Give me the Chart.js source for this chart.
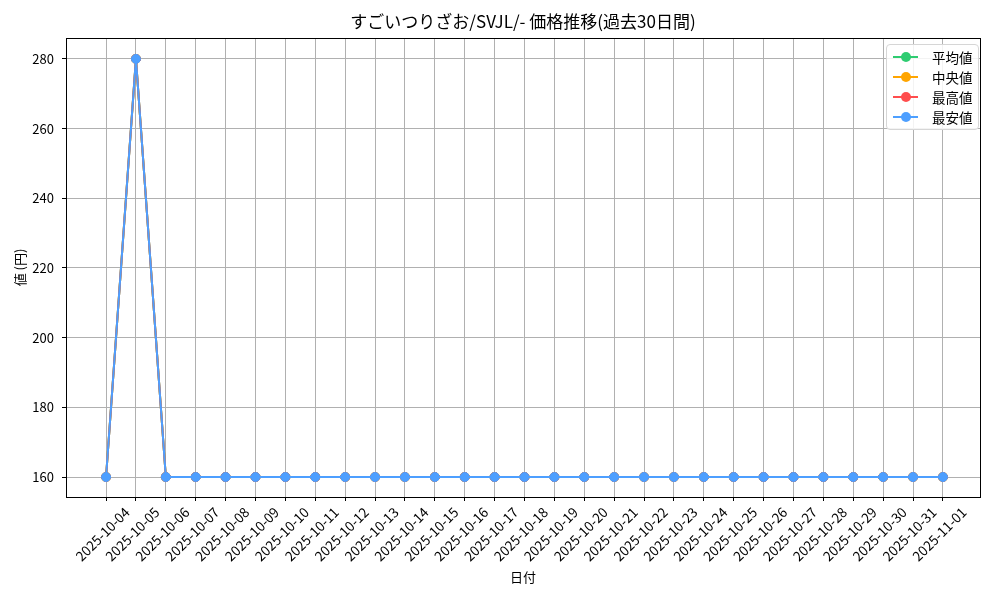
<!DOCTYPE html>
<html lang="ja">
<head>
<meta charset="utf-8">
<script src="https://cdn.jsdelivr.net/npm/chart.js@4.4.0/dist/chart.umd.min.js"></script>
<style>
  body { margin: 0; background: #fff; font-family: "Noto Sans CJK JP", sans-serif; }
  #wrap { position: relative; width: 1000px; height: 600px; }
  #legend {
    position: absolute; left: 886px; top: 44px; width: 91px; height: 84px;
    border: 1px solid #d6d6d6; border-radius: 4px; background: rgba(255,255,255,0.85);
    font-size: 13.5px; color: #000;
  }
  .item { position: absolute; left: 6px; height: 20px; display: flex; align-items: center; }
  .mark { position: relative; width: 25px; height: 2px; margin-right: 14px; }
  .mark i { position: absolute; left: 8px; top: -4px; width: 10px; height: 10px; border-radius: 50%; }
</style>
</head>
<body>
<div id="wrap">
  <canvas id="lineChart" width="1000" height="600"></canvas>
  <div id="legend"></div>
</div>
<script>
const chartTitle = 'すごいつりざお/SVJL/- 価格推移(過去30日間)';
const dates = [
  '2025-10-04', '2025-10-05', '2025-10-06', '2025-10-07', '2025-10-08', '2025-10-09', '2025-10-10',
  '2025-10-11', '2025-10-12', '2025-10-13', '2025-10-14', '2025-10-15', '2025-10-16', '2025-10-17',
  '2025-10-18', '2025-10-19', '2025-10-20', '2025-10-21', '2025-10-22', '2025-10-23', '2025-10-24',
  '2025-10-25', '2025-10-26', '2025-10-27', '2025-10-28', '2025-10-29', '2025-10-30', '2025-10-31',
  '2025-11-01'
];
const avgPrice = [160, 280, 160, 160, 160, 160, 160, 160, 160, 160, 160, 160, 160, 160, 160,
  160, 160, 160, 160, 160, 160, 160, 160, 160, 160, 160, 160, 160, 160];
const medianPrice = [160, 280, 160, 160, 160, 160, 160, 160, 160, 160, 160, 160, 160, 160, 160,
  160, 160, 160, 160, 160, 160, 160, 160, 160, 160, 160, 160, 160, 160];
const maxPrice = [160, 280, 160, 160, 160, 160, 160, 160, 160, 160, 160, 160, 160, 160, 160,
  160, 160, 160, 160, 160, 160, 160, 160, 160, 160, 160, 160, 160, 160];
const minPrice = [160, 280, 160, 160, 160, 160, 160, 160, 160, 160, 160, 160, 160, 160, 160,
  160, 160, 160, 160, 160, 160, 160, 160, 160, 160, 160, 160, 160, 160];
const yTicks = [160, 180, 200, 220, 240, 260, 280];

const series = [
  { label: '平均値', data: avgPrice, color: '#2ecc71', order: 4 },
  { label: '中央値', data: medianPrice, color: '#ffa500', order: 3 },
  { label: '最高値', data: maxPrice, color: '#ff4d4d', order: 2 },
  { label: '最安値', data: minPrice, color: '#4d9fff', order: 1 }
];

const font = "'Noto Sans CJK JP', sans-serif";

// matplotlib style: box around plot + title centred on the plot area
const framePlugin = {
  id: 'frame',
  afterDraw(c) {
    const { ctx, chartArea: a } = c;
    ctx.save();
    ctx.strokeStyle = '#000';
    ctx.lineWidth = 1;
    ctx.strokeRect(a.left + 0.5, a.top + 0.5, a.right - a.left, a.bottom - a.top);
    ctx.fillStyle = '#000';
    ctx.font = `17px ${font}`;
    ctx.textAlign = 'center';
    ctx.textBaseline = 'middle';
    ctx.fillText(chartTitle, (a.left + a.right) / 2, 22);
    ctx.restore();
  }
};

const ctx = document.getElementById('lineChart').getContext('2d');
const chart = new Chart(ctx, {
  type: 'line',
  data: {
    datasets: series.map(s => ({
      label: s.label,
      data: s.data.map((v, i) => ({ x: i, y: v })),
      borderColor: s.color,
      backgroundColor: s.color,
      pointBackgroundColor: s.color,
      pointBorderColor: s.color,
      borderWidth: 2,
      pointRadius: 4.5,
      pointBorderWidth: 1,
      tension: 0,
      order: s.order
    }))
  },
  options: {
    responsive: false,
    animation: false,
    devicePixelRatio: 1,
    layout: { padding: { top: 38, right: 20, left: 0, bottom: 0 } },
    scales: {
      x: {
        type: 'linear',
        min: -1.34,
        max: 29.24,
        afterBuildTicks: s => { s.ticks = dates.map((d, i) => ({ value: i })); },
        afterFit: s => { s.height = 103; },
        ticks: {
          autoSkip: false,
          minRotation: 45,
          maxRotation: 45,
          labelOffset: 21,
          padding: 3,
          color: '#000',
          font: { family: font, size: 13.5 },
          callback: v => dates[v]
        },
        grid: { color: '#b0b0b0', tickColor: '#000', tickLength: 4 },
        border: { color: '#000' },
        title: { display: true, text: '日付', color: '#000', font: { family: font, size: 13 }, padding: { bottom: 15 } }
      },
      y: {
        min: 154.26,
        max: 286,
        afterBuildTicks: s => { s.ticks = yTicks.map(v => ({ value: v })); },
        afterFit: s => { s.width = 66; },
        ticks: { color: '#000', padding: 8, font: { family: font, size: 13 } },
        grid: { color: '#b0b0b0', tickColor: '#000', tickLength: 4 },
        border: { color: '#000' },
        title: { display: true, text: '値 (円)', color: '#000', font: { family: font, size: 13 }, padding: { top: 12 } }
      }
    },
    plugins: {
      legend: { display: false },
      tooltip: { enabled: false }
    }
  },
  plugins: [framePlugin]
});

// legend in the upper right corner of the plot, as in the original
const legendBox = document.getElementById('legend');
series.forEach((s, i) => {
  const item = document.createElement('div');
  item.className = 'item';
  item.style.top = (2 + i * 20) + 'px';
  item.innerHTML = `<span class="mark" style="background:${s.color}"><i style="background:${s.color}"></i></span><span>${s.label}</span>`;
  legendBox.appendChild(item);
});
</script>
</body>
</html>
